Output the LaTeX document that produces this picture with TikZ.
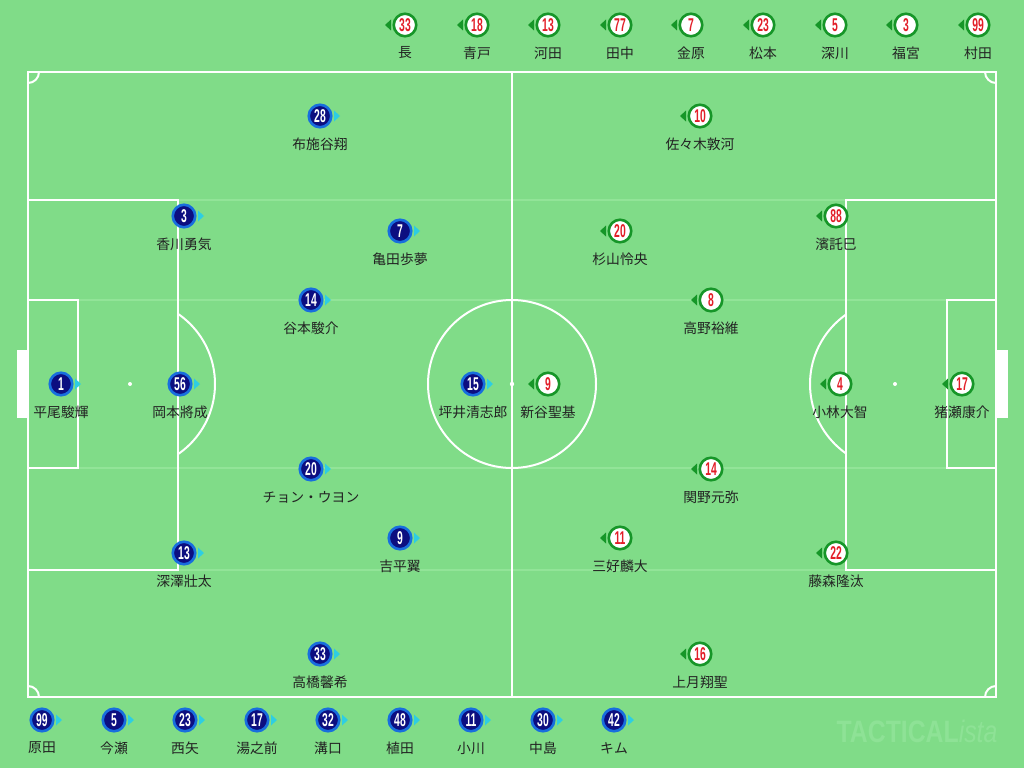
\documentclass[tikz,border=0pt]{standalone}
\usepackage{fontspec}
\newfontfamily\jp{Noto Sans CJK JP}
\newfontfamily\numfont{Liberation Sans}[FakeStretch=0.56]
\newfontfamily\logofont{Liberation Sans}[FakeStretch=0.8]
\definecolor{pitch}{RGB}{128,220,136}
\definecolor{faint}{RGB}{146,228,152}
\definecolor{logoc}{RGB}{142,226,150}
\definecolor{navy}{RGB}{12,14,128}
\definecolor{bring}{RGB}{24,110,222}
\definecolor{cyanT}{RGB}{46,206,226}
\definecolor{gring}{RGB}{22,150,40}
\definecolor{numred}{RGB}{226,30,40}
\definecolor{txt}{RGB}{34,34,34}
\tikzset{
  line/.style={draw=white, line width=2pt},
  faintline/.style={draw=faint, line width=1.2pt},
  bcirc/.style={circle, fill=navy, draw=bring, line width=2.6pt, minimum size=22.5pt, inner sep=0pt, text=white, font=\numfont\bfseries\fontsize{18.5}{18.5}\selectfont},
  rcirc/.style={circle, fill=white, draw=gring, line width=2.6pt, minimum size=22.5pt, inner sep=0pt, text=numred, font=\numfont\bfseries\fontsize{18.5}{18.5}\selectfont},
  pname/.style={inner sep=0pt, text=txt, font=\jp\fontsize{13.8}{13.8}\selectfont},
  btri/.style={fill=cyanT},
  rtri/.style={fill=gring},
}
\newcommand\bp[5]{%
  \node[bcirc] (#5) at (#1,#2) {#3};
  \fill[btri] (#1+14,#2-5.5) -- (#1+20,#2) -- (#1+14,#2+5.5) -- cycle;
  \node[pname] (#5n) at (#1,#2+28) {#4};}
\newcommand\rp[5]{%
  \node[rcirc] (#5) at (#1,#2) {#3};
  \fill[rtri] (#1-14,#2-5.5) -- (#1-20,#2) -- (#1-14,#2+5.5) -- cycle;
  \node[pname] (#5n) at (#1,#2+28) {#4};}
\begin{document}
\begin{tikzpicture}[x=1pt,y=-1pt]
\fill[pitch] (0,0) rectangle (1024,768);
\useasboundingbox (0,0) rectangle (1024,768);
% faint stripes
\foreach \yy in {200,300,468,570} \draw[faintline] (28,\yy) -- (996,\yy);
% goals
\fill[white] (17,350) rectangle (28,418);
\fill[white] (996,350) rectangle (1008,418);
% field
\draw[line] (28,72) rectangle (996,697);
\draw[line] (512,72) -- (512,697);
\draw[line] (512,384) circle[radius=84];
\fill[white] (512,384) circle[radius=2.2];
% left boxes
\draw[line] (28,200) -- (178,200) -- (178,570) -- (28,570);
\draw[line] (28,300) -- (78,300) -- (78,468) -- (28,468);
\fill[white] (130,384) circle[radius=2];
% right boxes
\draw[line] (996,200) -- (846,200) -- (846,570) -- (996,570);
\draw[line] (996,300) -- (947,300) -- (947,468) -- (996,468);
\fill[white] (895,384) circle[radius=2];
% penalty arcs
\begin{scope}
\clip (178,250) rectangle (260,520);
\draw[line] (130,384) circle[radius=85];
\end{scope}
\begin{scope}
\clip (764,250) rectangle (846,520);
\draw[line] (895,384) circle[radius=85];
\end{scope}
% corner arcs
\begin{scope}
\clip (28,72) rectangle (996,697);
\draw[line] (28,72) circle[radius=11];
\draw[line] (996,72) circle[radius=11];
\draw[line] (28,697) circle[radius=11];
\draw[line] (996,697) circle[radius=11];
\end{scope}
% logo
\node[inner sep=0pt, text=logoc, font=\fontsize{31}{31}\selectfont] (logo) at (917,731)
  {\logofont\bfseries TACTICAL\itshape\mdseries ista};
% blue team
\bp{320}{116}{28}{布施谷翔}{b28}
\bp{184}{216}{3}{香川勇気}{b3}
\bp{400}{231}{7}{亀田歩夢}{b7}
\bp{311}{300}{14}{谷本駿介}{b14}
\bp{61}{384}{1}{平尾駿輝}{b1}
\bp{180}{384}{56}{岡本將成}{b56}
\bp{473}{384}{15}{坪井清志郎}{b15}
\bp{311}{469}{20}{チョン・ウヨン}{b20}
\bp{184}{553}{13}{深澤壯太}{b13}
\bp{400}{538}{9}{吉平翼}{b9}
\bp{320}{654}{33}{高橋馨希}{b33}
% red team
\rp{700}{116}{10}{佐々木敦河}{r10}
\rp{620}{231}{20}{杉山怜央}{r20}
\rp{836}{216}{88}{濱託巳}{r88}
\rp{711}{300}{8}{高野裕維}{r8}
\rp{548}{384}{9}{新谷聖基}{r9}
\rp{840}{384}{4}{小林大智}{r4}
\rp{962}{384}{17}{猪瀬康介}{r17}
\rp{711}{469}{14}{関野元弥}{r14}
\rp{620}{538}{11}{三好麟大}{r11}
\rp{836}{553}{22}{藤森隆汰}{r22}
\rp{700}{654}{16}{上月翔聖}{r16}
% red subs
\rp{405}{25}{33}{長}{rs1}
\rp{477}{25}{18}{青戸}{rs2}
\rp{548}{25}{13}{河田}{rs3}
\rp{620}{25}{77}{田中}{rs4}
\rp{691}{25}{7}{金原}{rs5}
\rp{763}{25}{23}{松本}{rs6}
\rp{835}{25}{5}{深川}{rs7}
\rp{906}{25}{3}{福宮}{rs8}
\rp{978}{25}{99}{村田}{rs9}
% blue subs
\bp{42}{720}{99}{原田}{bs1}
\bp{114}{720}{5}{今瀬}{bs2}
\bp{185}{720}{23}{西矢}{bs3}
\bp{257}{720}{17}{湯之前}{bs4}
\bp{328}{720}{32}{溝口}{bs5}
\bp{400}{720}{48}{植田}{bs6}
\bp{471}{720}{11}{小川}{bs7}
\bp{543}{720}{30}{中島}{bs8}
\bp{614}{720}{42}{キム}{bs9}
\end{tikzpicture}
\end{document}
